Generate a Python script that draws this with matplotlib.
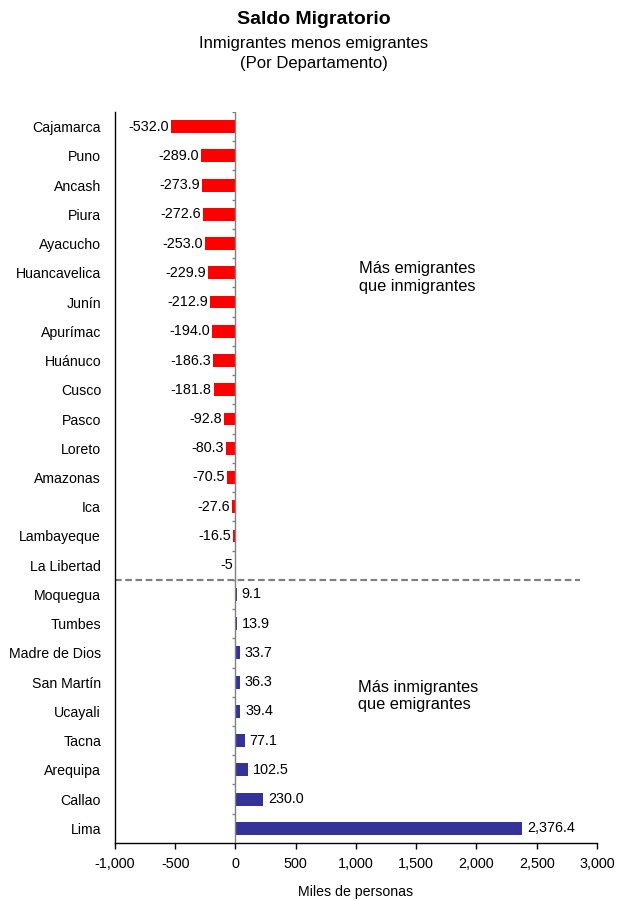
import matplotlib.pyplot as plt
import numpy as np

plt.rcParams['font.family'] = ['Liberation Sans', 'DejaVu Sans']

# Datos (de arriba hacia abajo)
departamentos = ['Cajamarca', 'Puno', 'Ancash', 'Piura', 'Ayacucho', 'Huancavelica',
                 'Junín', 'Apurímac', 'Huánuco', 'Cusco', 'Pasco', 'Loreto',
                 'Amazonas', 'Ica', 'Lambayeque', 'La Libertad', 'Moquegua',
                 'Tumbes', 'Madre de Dios', 'San Martín', 'Ucayali', 'Tacna',
                 'Arequipa', 'Callao', 'Lima']
saldo = [-532.0, -289.0, -273.9, -272.6, -253.0, -229.9, -212.9, -194.0, -186.3,
         -181.8, -92.8, -80.3, -70.5, -27.6, -16.5, -5, 9.1, 13.9, 33.7, 36.3,
         39.4, 77.1, 102.5, 230.0, 2376.4]
etiquetas = ['-532.0', '-289.0', '-273.9', '-272.6', '-253.0', '-229.9', '-212.9',
             '-194.0', '-186.3', '-181.8', '-92.8', '-80.3', '-70.5', '-27.6',
             '-16.5', '-5', '9.1', '13.9', '33.7', '36.3', '39.4', '77.1',
             '102.5', '230.0', '2,376.4']
xticks = [-1000, -500, 0, 500, 1000, 1500, 2000, 2500, 3000]

fig = plt.figure(figsize=(6.18, 9.01), dpi=100)
ax = fig.add_axes([0.186, 0.0644, 0.780, 0.8113])

pos = np.arange(len(departamentos))
colores = ['#FF0000' if v < 0 else '#333399' for v in saldo]
ax.barh(pos, saldo, height=0.44, color=colores, zorder=3)

for p, v, t in zip(pos, saldo, etiquetas):
    if v < 0:
        ax.annotate(t, (v, p), xytext=(-2, 0), textcoords='offset pixels',
                    ha='right', va='center', fontsize=10.4)
    else:
        ax.annotate(t, (v, p), xytext=(5, 0), textcoords='offset pixels',
                    ha='left', va='center', fontsize=10.4)

ax.set_ylim(len(departamentos) - 0.5, -0.5)
ax.set_xlim(-1000, 3000)
ax.set_yticks(pos)
ax.set_yticklabels(departamentos, fontsize=10.2)
ax.tick_params(axis='y', length=0, pad=10)
ax.set_xticks(xticks)
ax.set_xticklabels([f'{x:,}' for x in xticks], fontsize=10.4)
ax.tick_params(axis='x', direction='out', length=4, width=1, pad=6)
ax.set_xlabel('Miles de personas', fontsize=10.2, labelpad=10)

for s in ['top', 'right']:
    ax.spines[s].set_visible(False)
for s in ['left', 'bottom']:
    ax.spines[s].set_color('black')
    ax.spines[s].set_linewidth(1)

# eje de categorías en cero
ax.axvline(0, color='#808080', lw=1, zorder=4)
ax.hlines(pos[:-1] + 0.5, -30, 0, color='#808080', lw=1, zorder=4)
ax.hlines([-0.5], -30, 0, color='#808080', lw=1, zorder=4)

# separación
ax.axhline(15.5, xmin=0, xmax=0.965, color='#808080', lw=1.6, ls=(0, (3, 1.6)), zorder=2)

ax.text(1025, 5.16, 'Más emigrantes\nque inmigrantes', fontsize=11.8, va='center',
        linespacing=1.2)
ax.text(1015, 19.47, 'Más inmigrantes\nque emigrantes', fontsize=11.8, va='center',
        linespacing=1.2)

fig.text(0.508, 0.978, 'Saldo Migratorio', ha='center', va='center', fontsize=14,
         fontweight='bold')
fig.text(0.508, 0.952, 'Inmigrantes menos emigrantes', ha='center', va='center', fontsize=12)
fig.text(0.508, 0.929, '(Por Departamento)', ha='center', va='center', fontsize=12)

fig.savefig('out.png', dpi=100)
